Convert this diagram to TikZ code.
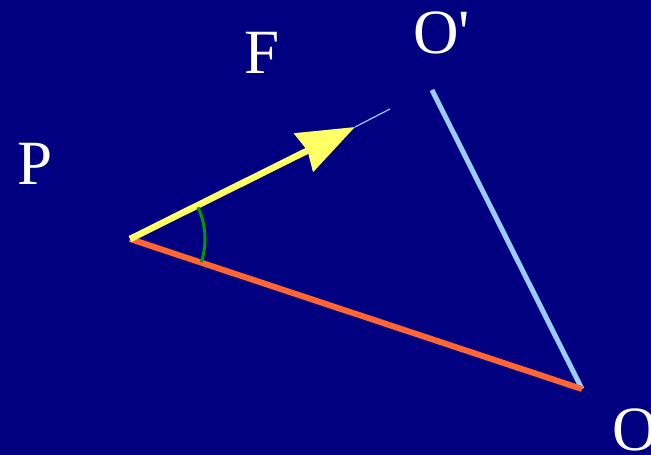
\documentclass[tikz,border=0pt]{standalone}
\usepackage{fontspec}
\setmainfont{Liberation Serif}
\usetikzlibrary{arrows.meta,calc}
\definecolor{bgnavy}{HTML}{000080}
\definecolor{forceyellow}{HTML}{FFFF66}
\definecolor{armorange}{HTML}{FF6633}
\definecolor{axisblue}{HTML}{99CCFF}
\definecolor{anglegreen}{HTML}{009900}
\tikzset{
  lbl/.style={text=white, inner sep=0pt, anchor=base west, font=\fontsize{63}{63}\selectfont},
  force/.style={forceyellow, line width=6.5pt, -{Stealth[length=57pt,width=42pt,inset=4pt]}},
}
\begin{document}
\begin{tikzpicture}[x=1pt,y=1pt]
  \fill[bgnavy] (0,0) rectangle (651,455);
  \useasboundingbox (0,0) rectangle (651,455);
  \coordinate (P) at (130,216);
  \coordinate (O) at (582,66);
  \coordinate (Oprime) at (432,365);
  \coordinate (tip) at (355,328);
  \coordinate (ftail) at (390,346);
  \node[lbl] (plabel) at (17,270) {P};
  \node[lbl] (flabel) at (244,381) {F};
  \node[lbl] (oplabel) at (413,401) {O\textquotesingle};
  \node[lbl] (olabel) at (612,4) {O};
  % lines
  \draw[axisblue, line width=1.2pt] (tip) -- (ftail);
  \draw[axisblue, line width=5pt] (Oprime) -- (O);
  \draw[armorange, line width=6pt] (P) -- (O);
  \draw[force] (P) -- (tip);
  \draw[anglegreen, line width=3pt] ($(P)+(-18:75pt)$) arc[start angle=-18, end angle=25, radius=75pt];
\end{tikzpicture}
\end{document}
